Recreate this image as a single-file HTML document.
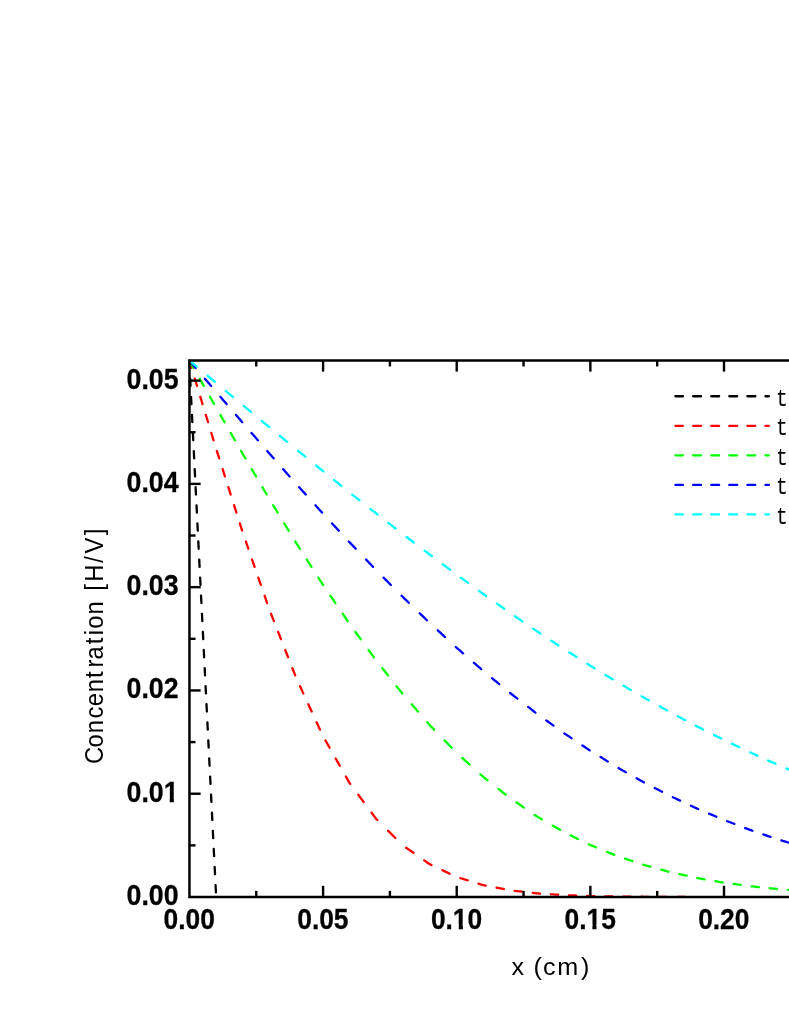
<!DOCTYPE html>
<html><head><meta charset="utf-8"><title>chart</title>
<style>
html,body{margin:0;padding:0;background:#fff;}
body{width:789px;height:1021px;overflow:hidden;position:relative;font-family:"Liberation Sans",sans-serif;}
text{font-family:"Liberation Sans",sans-serif;fill:#000;}
.tl{font-size:29.5px;font-weight:bold;stroke:#000;stroke-width:0.3px;}
.al{font-weight:normal;}
.lg{font-family:"Liberation Mono",monospace;font-size:24px;}
</style></head><body>
<svg width="789" height="1021" viewBox="0 0 789 1021" style="position:absolute;left:0;top:0;will-change:transform">
<defs><clipPath id="pc"><rect x="188.45" y="359.4" width="700" height="538.2"/></clipPath></defs>
<path d="M189.26,360.62 L189.52,365.77 L189.63,367.92 M190.17,378.70 L190.33,381.86 L190.53,386.00 M191.07,396.79 L191.13,397.96 L191.40,403.33 L191.44,404.09 M191.98,414.88 L192.21,419.43 L192.35,422.17 M192.89,432.96 L193.02,435.52 L193.25,440.26 M193.79,451.04 L193.82,451.62 L194.09,456.99 L194.16,458.34 M194.70,469.13 L194.90,473.09 L195.07,476.43 M195.61,487.21 L195.71,489.18 L195.97,494.51 M196.52,505.30 L196.78,510.65 L196.88,512.60 M197.42,523.38 L197.59,526.75 L197.79,530.68 M198.33,541.47 L198.40,542.84 L198.67,548.21 L198.69,548.77 M199.24,559.55 L199.47,564.31 L199.60,566.86 M200.14,577.64 L200.28,580.41 L200.51,584.94 M201.05,595.73 L201.09,596.50 L201.36,601.87 L201.42,603.02 M201.96,613.81 L202.16,617.97 L202.32,621.11 M202.86,631.89 L202.97,634.07 L203.23,639.20 M203.77,649.98 L203.78,650.16 L204.05,655.53 L204.14,657.28 M204.68,668.07 L204.85,671.63 L205.04,675.37 M205.58,686.15 L205.66,687.73 L205.93,693.09 L205.95,693.45 M206.49,704.24 L206.74,709.19 L206.86,711.54 M207.40,722.32 L207.55,725.29 L207.76,729.62 M208.30,740.40 L208.35,741.39 L208.62,746.75 L208.67,747.71 M209.21,758.49 L209.43,762.85 L209.58,765.79 M210.12,776.58 L210.24,778.95 L210.48,783.88 M211.02,794.66 L211.04,795.05 L211.31,800.41 L211.39,801.96 M211.93,812.75 L212.12,816.51 L212.30,820.05 M212.84,830.83 L212.93,832.61 L213.20,837.97 L213.20,838.13 M213.74,848.91 L214.00,854.07 L214.11,856.22 M214.65,867.00 L214.81,870.17 L215.02,874.30 M215.56,885.09 L215.62,886.27 L215.89,891.63 L215.92,892.38" fill="none" stroke="#000" stroke-width="2.3" stroke-linecap="round" stroke-linejoin="round" clip-path="url(#pc)"/>
<path d="M189.32,360.62 L190.59,364.79 L191.54,367.92 M194.82,378.70 L195.93,382.34 L197.04,386.00 M200.32,396.79 L201.27,399.90 L202.54,404.09 M205.82,414.88 L206.61,417.45 L207.94,421.84 L208.05,422.17 M211.33,432.96 L211.95,435.00 L213.28,439.39 L213.55,440.26 M216.87,451.04 L217.29,452.37 L218.63,456.58 L219.19,458.34 M222.61,469.13 L222.63,469.20 L223.97,473.40 L224.93,476.43 M228.35,487.21 L229.31,490.23 L230.64,494.43 L230.67,494.51 M234.09,505.30 L234.65,507.05 L235.98,511.26 L236.41,512.60 M239.83,523.38 L239.99,523.88 L241.32,528.08 L242.15,530.68 M245.83,541.47 L246.67,543.88 L248.00,547.74 L248.36,548.77 M252.08,559.55 L253.34,563.19 L254.61,566.86 M258.33,577.64 L258.68,578.65 L260.02,582.51 L260.86,584.94 M264.58,595.73 L265.36,597.97 L266.69,601.83 L267.11,603.02 M271.04,613.81 L272.04,616.36 L273.37,619.76 L273.90,621.11 M278.13,631.90 L278.71,633.36 L280.05,636.77 L281.00,639.20 M285.23,649.98 L285.39,650.37 L286.72,653.77 L288.06,657.17 L288.10,657.28 M292.33,668.07 L293.40,670.78 L294.73,674.18 L295.20,675.37 M300.01,686.15 L300.08,686.30 L301.41,689.21 L302.75,692.12 L303.36,693.45 M308.31,704.24 L309.42,706.66 L310.76,709.57 L311.66,711.54 M316.61,722.32 L317.43,724.10 L318.77,727.01 L319.97,729.62 M325.42,740.40 L325.45,740.44 L326.78,742.80 L328.12,745.15 L329.45,747.51 L329.56,747.71 M335.68,758.49 L336.13,759.28 L337.46,761.64 L338.80,763.99 L339.82,765.79 M345.93,776.58 L346.81,778.12 L348.14,780.48 L349.48,782.83 L350.25,783.88 M358.22,794.66 L358.83,795.47 L360.16,797.28 L361.50,799.09 L362.83,800.89 L363.62,801.96 M371.59,812.75 L372.18,813.54 L373.51,815.34 L374.85,817.15 L376.19,818.95 L377.28,820.03 M388.06,830.72 L388.20,830.86 L389.54,832.18 L390.87,833.50 L392.21,834.82 L393.54,836.15 L394.88,837.47 L395.36,837.95 M406.15,847.69 L406.90,848.21 L408.23,849.15 L409.57,850.09 L410.90,851.02 L412.24,851.96 L413.45,852.81 M424.23,860.38 L424.25,860.39 L425.59,861.33 L426.92,862.26 L428.26,863.20 L429.60,864.14 L430.93,864.77 L431.53,865.06 M442.32,870.19 L442.95,870.49 L444.28,871.13 L445.62,871.77 L446.95,872.40 L448.29,873.04 L449.62,873.67 M460.40,878.12 L461.64,878.50 L462.98,878.92 L464.31,879.33 L465.65,879.74 L466.98,880.15 L467.70,880.38 M478.49,883.71 L479.00,883.87 L480.33,884.29 L481.67,884.70 L483.00,885.11 L484.34,885.37 L485.68,885.63 L485.79,885.65 M496.57,887.72 L497.69,887.94 L499.03,888.20 L500.36,888.45 L501.70,888.71 L503.03,888.97 L503.87,889.13 M514.66,890.82 L515.05,890.87 L516.39,891.02 L517.72,891.17 L519.06,891.33 L520.39,891.48 L521.73,891.63 L521.96,891.66 M532.74,892.90 L533.74,893.01 L535.08,893.17 L536.41,893.32 L537.75,893.41 L539.09,893.49 L540.04,893.56 M550.83,894.26 L551.10,894.28 L552.44,894.37 L553.77,894.46 L555.11,894.55 L556.44,894.63 L557.78,894.72 L558.13,894.74 M568.91,895.28 L569.80,895.31 L571.13,895.36 L572.47,895.41 L573.80,895.45 L575.14,895.50 L576.21,895.54 M587.00,895.93 L587.15,895.93 L588.49,895.98 L589.83,896.03 L591.16,896.05 L592.50,896.08 L593.83,896.10 L594.30,896.11 M605.08,896.31 L605.85,896.33 L607.18,896.35 L608.52,896.38 L609.85,896.40 L611.19,896.43 L612.38,896.45 M623.17,896.59 L623.21,896.59 L624.54,896.61 L625.88,896.62 L627.21,896.63 L628.55,896.64 L629.88,896.66 L630.47,896.66 M641.25,896.76 L641.90,896.77 L643.24,896.78 L644.57,896.79 L645.91,896.79 L647.24,896.80 L648.55,896.81 M659.34,896.85 L660.59,896.86 L661.93,896.87 L663.26,896.87 L664.60,896.88 L665.93,896.88 L666.64,896.89 M677.42,896.92 L677.95,896.92 L679.29,896.92 L680.62,896.92 L681.96,896.93 L683.29,896.93 L684.63,896.93 L684.72,896.93" fill="none" stroke="#ff0000" stroke-width="2.3" stroke-linecap="round" stroke-linejoin="round" clip-path="url(#pc)"/>
<path d="M189.38,360.62 L190.59,362.75 L191.92,365.09 L193.26,367.44 L193.53,367.92 M199.67,378.70 L199.93,379.17 L201.27,381.52 L202.60,383.87 L203.82,386.00 M209.96,396.79 L210.61,397.95 L211.95,400.29 L213.28,402.64 L214.11,404.09 M220.30,414.88 L221.30,416.61 L222.63,418.93 L223.97,421.25 L224.50,422.17 M230.70,432.96 L231.98,435.17 L233.31,437.49 L234.65,439.81 L234.91,440.26 M241.11,451.04 L241.32,451.41 L242.66,453.73 L244.00,456.00 L245.33,458.27 L245.38,458.34 M251.73,469.13 L252.01,469.60 L253.34,471.86 L254.68,474.13 L256.01,476.40 L256.03,476.43 M262.39,487.21 L262.69,487.73 L264.02,489.99 L265.36,492.26 L266.69,494.51 M273.17,505.30 L273.37,505.62 L274.71,507.81 L276.04,510.00 L277.38,512.18 L277.63,512.60 M284.22,523.38 L285.39,525.31 L286.72,527.49 L288.06,529.68 L288.67,530.68 M295.26,541.47 L296.07,542.80 L297.41,544.89 L298.74,546.97 L299.89,548.77 M306.80,559.55 L308.09,561.57 L309.42,563.66 L310.76,565.74 L311.47,566.86 M318.38,577.64 L318.77,578.25 L320.10,580.34 L321.44,582.42 L322.77,584.51 L323.07,584.94 M330.40,595.73 L330.79,596.29 L332.12,598.26 L333.46,600.22 L334.79,602.19 L335.36,603.02 M342.69,613.81 L342.80,613.97 L344.14,615.94 L345.47,617.90 L346.81,619.87 L347.66,621.11 M355.39,631.89 L356.16,632.95 L357.49,634.78 L358.83,636.61 L360.16,638.44 L360.71,639.20 M368.58,649.98 L369.51,651.26 L370.84,653.09 L372.18,654.92 L373.51,656.75 L373.90,657.28 M382.23,668.07 L382.86,668.86 L384.20,670.55 L385.53,672.24 L386.87,673.94 L388.00,675.37 M396.51,686.15 L397.55,687.46 L398.88,689.15 L400.22,690.84 L401.55,692.53 L402.28,693.45 M411.59,704.24 L412.24,704.98 L413.57,706.52 L414.91,708.06 L416.24,709.59 L417.58,711.13 L417.93,711.54 M427.30,722.32 L428.26,723.42 L429.60,724.96 L430.93,726.34 L432.27,727.72 L433.60,729.09 L434.11,729.62 M444.55,740.40 L445.62,741.50 L446.95,742.88 L448.29,744.26 L449.62,745.64 L450.96,747.02 L451.62,747.71 M462.25,757.93 L462.98,758.58 L464.31,759.79 L465.65,761.00 L466.98,762.20 L468.32,763.41 L469.55,764.53 M480.34,774.29 L481.67,775.50 L483.00,776.71 L484.34,777.76 L485.68,778.82 L487.01,779.88 L487.64,780.38 M498.42,788.91 L499.03,789.39 L500.36,790.45 L501.70,791.50 L503.03,792.56 L504.37,793.62 L505.70,794.67 L505.72,794.69 M516.51,802.49 L517.72,803.32 L519.06,804.24 L520.39,805.15 L521.73,806.06 L523.06,806.98 L523.81,807.49 M534.59,814.86 L535.08,815.19 L536.41,816.11 L537.75,816.88 L539.09,817.66 L540.42,818.44 L541.76,819.22 L541.89,819.30 M552.68,825.59 L553.77,826.23 L555.11,827.01 L556.44,827.79 L557.78,828.57 L559.11,829.35 L559.98,829.85 M570.76,835.45 L571.13,835.63 L572.47,836.28 L573.80,836.94 L575.14,837.60 L576.47,838.25 L577.81,838.91 L578.06,839.04 M588.85,844.34 L589.83,844.82 L591.16,845.37 L592.50,845.91 L593.83,846.46 L595.17,847.01 L596.15,847.41 M606.93,851.82 L607.18,851.93 L608.52,852.47 L609.85,853.02 L611.19,853.57 L612.52,854.11 L613.86,854.66 L614.23,854.81 M625.02,858.61 L625.88,858.90 L627.21,859.35 L628.55,859.80 L629.88,860.25 L631.22,860.70 L632.32,861.07 M643.10,864.70 L643.24,864.74 L644.57,865.11 L645.91,865.47 L647.24,865.84 L648.58,866.20 L649.91,866.57 L650.40,866.70 M661.19,869.65 L661.93,869.86 L663.26,870.22 L664.60,870.59 L665.93,870.95 L667.27,871.32 L668.49,871.65 M679.27,874.10 L679.29,874.10 L680.62,874.39 L681.96,874.68 L683.29,874.98 L684.63,875.27 L685.96,875.56 L686.57,875.70 M697.36,878.03 L697.98,878.14 L699.32,878.37 L700.65,878.60 L701.99,878.84 L703.32,879.07 L704.66,879.30 L704.66,879.30 M715.44,881.18 L716.67,881.39 L718.01,881.62 L719.34,881.85 L720.68,882.09 L722.01,882.32 L722.74,882.45 M733.53,883.94 L734.03,884.01 L735.37,884.19 L736.70,884.37 L738.04,884.55 L739.37,884.73 L740.71,884.91 L740.83,884.93 M751.61,886.35 L752.73,886.47 L754.06,886.61 L755.40,886.75 L756.73,886.89 L758.07,887.03 L758.91,887.12 M769.70,888.25 L770.08,888.29 L771.42,888.44 L772.75,888.58 L774.09,888.72 L775.42,888.86 L776.76,889.00 L777.00,889.02 M787.78,889.88 L788.78,889.96 L790.11,890.07 L791.45,890.18 L792.78,890.28 L794.12,890.39 L795.08,890.47 M805.87,891.28 L806.14,891.30 L807.47,891.38 L808.81,891.46 L810.14,891.54 L811.48,891.62 L812.81,891.70 L813.17,891.73 M823.95,892.38 L824.83,892.43 L826.16,892.51 L827.50,892.59 L828.83,892.67" fill="none" stroke="#00ff00" stroke-width="2.3" stroke-linecap="round" stroke-linejoin="round" clip-path="url(#pc)"/>
<path d="M189.44,360.62 L190.59,361.96 L191.92,363.52 L193.26,365.09 L194.59,366.65 L195.68,367.92 M204.89,378.70 L205.27,379.15 L206.61,380.71 L207.94,382.27 L209.28,383.84 L210.61,385.40 L211.13,386.00 M220.37,396.79 L221.30,397.86 L222.63,399.42 L223.97,400.97 L225.30,402.53 L226.64,404.08 L226.65,404.09 M235.91,414.88 L235.98,414.96 L237.32,416.51 L238.65,418.07 L239.99,419.62 L241.32,421.17 L242.18,422.17 M251.55,432.96 L252.01,433.49 L253.34,435.03 L254.68,436.57 L256.01,438.10 L257.35,439.64 L257.88,440.26 M267.25,451.04 L268.03,451.94 L269.37,453.48 L270.70,454.99 L272.04,456.51 L273.37,458.02 L273.66,458.34 M283.17,469.13 L284.05,470.12 L285.39,471.64 L286.72,473.15 L288.06,474.66 L289.39,476.18 L289.62,476.43 M299.20,487.21 L300.08,488.19 L301.41,489.67 L302.75,491.15 L304.08,492.63 L305.42,494.11 L305.78,494.51 M315.50,505.30 L316.10,505.96 L317.43,507.44 L318.77,508.92 L320.10,510.41 L321.44,511.89 L322.08,512.60 M332.05,523.38 L332.12,523.46 L333.46,524.91 L334.79,526.35 L336.13,527.79 L337.46,529.23 L338.80,530.67 L338.81,530.68 M348.79,541.47 L349.48,542.21 L350.82,543.61 L352.15,545.01 L353.49,546.40 L354.82,547.80 L355.75,548.77 M366.06,559.55 L366.84,560.37 L368.17,561.77 L369.51,563.16 L370.84,564.56 L372.18,565.96 L373.04,566.86 M383.62,577.64 L384.20,578.22 L385.53,579.57 L386.87,580.91 L388.20,582.26 L389.54,583.61 L390.86,584.94 M401.56,595.73 L402.89,597.06 L404.23,598.35 L405.56,599.64 L406.90,600.93 L408.23,602.22 L408.85,602.82 M419.64,613.24 L420.25,613.82 L421.58,615.11 L422.92,616.40 L424.25,617.69 L425.59,618.98 L426.92,620.27 L426.94,620.28 M437.72,630.33 L438.94,631.45 L440.28,632.68 L441.61,633.91 L442.95,635.14 L444.28,636.37 L445.02,637.05 M455.81,646.98 L456.30,647.43 L457.64,648.59 L458.97,649.76 L460.31,650.93 L461.64,652.09 L462.98,653.26 L463.11,653.37 M473.89,662.78 L474.99,663.74 L476.33,664.91 L477.66,666.07 L479.00,667.24 L480.33,668.40 L481.19,669.15 M491.98,678.12 L492.35,678.42 L493.69,679.52 L495.02,680.62 L496.36,681.72 L497.69,682.82 L499.03,683.92 L499.28,684.12 M510.06,692.98 L511.05,693.74 L512.38,694.77 L513.72,695.80 L515.05,696.83 L516.39,697.86 L517.36,698.62 M528.15,706.94 L528.40,707.14 L529.74,708.17 L531.07,709.20 L532.41,710.23 L533.74,711.26 L535.08,712.29 L535.45,712.57 M546.23,720.39 L547.10,721.01 L548.43,721.98 L549.77,722.94 L551.10,723.90 L552.44,724.86 L553.53,725.65 M564.32,733.35 L564.46,733.45 L565.79,734.34 L567.13,735.23 L568.46,736.12 L569.80,737.01 L571.13,737.91 L571.62,738.23 M582.40,745.44 L583.15,745.94 L584.48,746.83 L585.82,747.72 L587.15,748.62 L588.49,749.51 L589.70,750.32 M600.49,756.98 L600.51,756.99 L601.84,757.82 L603.18,758.64 L604.51,759.46 L605.85,760.29 L607.18,761.11 L607.79,761.48 M618.57,768.03 L619.20,768.39 L620.54,769.15 L621.87,769.90 L623.21,770.66 L624.54,771.42 L625.87,772.17 M636.66,778.28 L637.89,778.98 L639.23,779.74 L640.56,780.49 L641.90,781.25 L643.24,782.00 L643.96,782.38 M654.74,787.96 L655.25,788.22 L656.59,788.91 L657.92,789.60 L659.26,790.30 L660.59,790.99 L661.93,791.68 L662.04,791.74 M672.83,797.18 L673.95,797.70 L675.28,798.33 L676.62,798.96 L677.95,799.59 L679.29,800.21 L680.13,800.61 M690.91,805.68 L691.30,805.86 L692.64,806.49 L693.97,807.12 L695.31,807.75 L696.64,808.37 L697.98,808.94 L698.21,809.04 M709.00,813.62 L710.00,814.04 L711.33,814.61 L712.67,815.18 L714.00,815.75 L715.34,816.31 L716.30,816.72 M727.08,821.14 L727.36,821.25 L728.69,821.76 L730.03,822.26 L731.36,822.77 L732.70,823.28 L734.03,823.79 L734.38,823.93 M745.17,828.05 L746.05,828.38 L747.38,828.89 L748.72,829.40 L750.05,829.91 L751.39,830.37 L752.47,830.73 M763.25,834.42 L763.41,834.47 L764.74,834.92 L766.08,835.38 L767.41,835.84 L768.75,836.29 L770.08,836.75 L770.55,836.91 M781.34,840.41 L782.10,840.65 L783.44,841.05 L784.77,841.46 L786.11,841.86 L787.44,842.27 L788.64,842.63 M799.42,845.90 L799.46,845.91 L800.79,846.32 L802.13,846.73 L803.47,847.13 L804.80,847.49 L806.14,847.85 L806.72,848.01 M817.51,850.90 L818.15,851.07 L819.49,851.43 L820.82,851.79 L822.16,852.15 L823.49,852.51 L824.81,852.86" fill="none" stroke="#0000ff" stroke-width="2.3" stroke-linecap="round" stroke-linejoin="round" clip-path="url(#pc)"/>
<path d="M189.47,360.58 L190.59,361.52 L191.92,362.63 L193.26,363.75 L194.59,364.87 L195.93,365.99 L196.77,366.69 M207.56,375.72 L207.94,376.04 L209.28,377.16 L210.61,378.28 L211.95,379.40 L213.28,380.51 L214.62,381.63 L214.85,381.83 M225.64,390.83 L226.64,391.66 L227.97,392.78 L229.31,393.89 L230.64,395.01 L231.98,396.12 L232.94,396.92 M243.72,405.92 L244.00,406.15 L245.33,407.25 L246.67,408.36 L248.00,409.47 L249.34,410.58 L250.67,411.69 L251.03,411.98 M261.81,420.93 L262.69,421.66 L264.02,422.77 L265.36,423.88 L266.69,424.99 L268.03,426.10 L269.11,426.99 M279.89,435.87 L280.05,436.00 L281.38,437.10 L282.72,438.20 L284.05,439.30 L285.39,440.40 L286.72,441.50 L287.19,441.88 M297.98,450.75 L298.74,451.37 L300.08,452.45 L301.41,453.54 L302.75,454.63 L304.08,455.72 L305.28,456.69 M316.06,465.47 L316.10,465.50 L317.43,466.59 L318.77,467.68 L320.10,468.76 L321.44,469.85 L322.77,470.94 L323.37,471.41 M334.15,480.08 L334.79,480.59 L336.13,481.67 L337.46,482.74 L338.80,483.81 L340.13,484.88 L341.45,485.94 M352.24,494.57 L353.49,495.56 L354.82,496.61 L356.16,497.67 L357.49,498.72 L358.83,499.78 L359.54,500.34 M370.32,508.86 L370.84,509.28 L372.18,510.33 L373.51,511.39 L374.85,512.44 L376.19,513.50 L377.52,514.53 L377.62,514.61 M388.40,522.97 L389.54,523.85 L390.87,524.89 L392.21,525.92 L393.54,526.96 L394.88,527.99 L395.71,528.63 M406.49,536.93 L406.90,537.24 L408.23,538.26 L409.57,539.27 L410.90,540.28 L412.24,541.29 L413.57,542.31 L413.79,542.47 M424.58,550.65 L425.59,551.42 L426.92,552.44 L428.26,553.45 L429.60,554.46 L430.93,555.46 L431.88,556.16 M442.66,564.21 L442.95,564.42 L444.28,565.42 L445.62,566.41 L446.95,567.41 L448.29,568.40 L449.62,569.40 L449.96,569.65 M460.75,577.61 L461.64,578.26 L462.98,579.23 L464.31,580.20 L465.65,581.17 L466.98,582.14 L468.05,582.91 M478.83,590.74 L479.00,590.87 L480.33,591.84 L481.67,592.81 L483.00,593.78 L484.34,594.72 L485.68,595.66 L486.13,595.98 M496.92,603.59 L497.69,604.14 L499.03,605.09 L500.36,606.03 L501.70,606.97 L503.03,607.91 L504.22,608.75 M515.00,616.24 L515.05,616.28 L516.39,617.19 L517.72,618.10 L519.06,619.02 L520.39,619.93 L521.73,620.84 L522.30,621.24 M533.09,628.61 L533.74,629.06 L535.08,629.97 L536.41,630.89 L537.75,631.77 L539.09,632.65 L540.38,633.50 M551.17,640.62 L552.44,641.45 L553.77,642.33 L555.11,643.21 L556.44,644.09 L557.78,644.97 L558.47,645.43 M569.26,652.38 L569.80,652.73 L571.13,653.57 L572.47,654.42 L573.80,655.26 L575.14,656.11 L576.47,656.96 L576.56,657.01 M587.34,663.84 L588.49,664.57 L589.83,665.42 L591.16,666.23 L592.50,667.04 L593.83,667.86 L594.64,668.35 M605.43,674.91 L605.85,675.17 L607.18,675.98 L608.52,676.79 L609.85,677.61 L611.19,678.42 L612.52,679.23 L612.73,679.35 M623.51,685.73 L624.54,686.34 L625.88,687.11 L627.21,687.89 L628.55,688.67 L629.88,689.45 L630.81,689.99 M641.60,696.27 L641.90,696.45 L643.24,697.23 L644.57,697.97 L645.91,698.71 L647.24,699.46 L648.58,700.20 L648.89,700.38 M659.68,706.38 L660.59,706.88 L661.93,707.63 L663.26,708.37 L664.60,709.11 L665.93,709.85 L666.98,710.44 M677.77,716.23 L677.95,716.33 L679.29,717.03 L680.62,717.74 L681.96,718.45 L683.29,719.15 L684.63,719.86 L685.07,720.09 M695.85,725.81 L696.64,726.23 L697.98,726.90 L699.32,727.57 L700.65,728.24 L701.99,728.91 L703.15,729.50 M713.94,734.92 L714.00,734.95 L715.34,735.63 L716.67,736.30 L718.01,736.97 L719.34,737.64 L720.68,738.31 L721.24,738.59 M732.02,743.78 L732.70,744.10 L734.03,744.74 L735.37,745.37 L736.70,746.01 L738.04,746.64 L739.32,747.25 M750.11,752.39 L751.39,752.96 L752.73,753.56 L754.06,754.16 L755.40,754.76 L756.73,755.36 L757.40,755.66 M768.19,760.51 L768.75,760.76 L770.08,761.36 L771.42,761.96 L772.75,762.56 L774.09,763.16 L775.42,763.76 L775.49,763.79 M786.28,768.38 L787.44,768.87 L788.78,769.43 L790.11,770.00 L791.45,770.56 L792.78,771.12 L793.58,771.46 M804.36,775.99 L804.80,776.16 L806.14,776.69 L807.47,777.22 L808.81,777.74 L810.14,778.27 L811.48,778.80 L811.66,778.87 M822.45,783.14 L823.49,783.55 L824.83,784.08 L826.16,784.61 L827.50,785.14 L828.83,785.67" fill="none" stroke="#00ffff" stroke-width="2.3" stroke-linecap="round" stroke-linejoin="round" clip-path="url(#pc)"/>
<path d="M794,360.4 L189.45,360.4 L189.45,897.0 L794,897.0" fill="none" stroke="#000" stroke-width="2.5" stroke-linejoin="miter"/>
<text x="189.25" y="929.0" text-anchor="middle" class="tl" textLength="51.3" lengthAdjust="spacingAndGlyphs">0.00</text>
<line x1="256.27" x2="256.27" y1="897.0" y2="890.9" stroke="#000" stroke-width="2.4"/>
<line x1="256.27" x2="256.27" y1="360.4" y2="366.5" stroke="#000" stroke-width="2.4"/>
<line x1="323.09" x2="323.09" y1="897.0" y2="885.8" stroke="#000" stroke-width="2.4"/>
<line x1="323.09" x2="323.09" y1="360.4" y2="371.59999999999997" stroke="#000" stroke-width="2.4"/>
<text x="322.89" y="929.0" text-anchor="middle" class="tl" textLength="51.3" lengthAdjust="spacingAndGlyphs">0.05</text>
<line x1="389.91" x2="389.91" y1="897.0" y2="890.9" stroke="#000" stroke-width="2.4"/>
<line x1="389.91" x2="389.91" y1="360.4" y2="366.5" stroke="#000" stroke-width="2.4"/>
<line x1="456.73" x2="456.73" y1="897.0" y2="885.8" stroke="#000" stroke-width="2.4"/>
<line x1="456.73" x2="456.73" y1="360.4" y2="371.59999999999997" stroke="#000" stroke-width="2.4"/>
<text x="456.53" y="929.0" text-anchor="middle" class="tl" textLength="51.3" lengthAdjust="spacingAndGlyphs">0.10</text>
<rect x="453.72" y="924.80" width="5.04" height="5.8" fill="#fff"/>
<rect x="462.88" y="924.80" width="4.71" height="5.8" fill="#fff"/>
<line x1="523.54" x2="523.54" y1="897.0" y2="890.9" stroke="#000" stroke-width="2.4"/>
<line x1="523.54" x2="523.54" y1="360.4" y2="366.5" stroke="#000" stroke-width="2.4"/>
<line x1="590.36" x2="590.36" y1="897.0" y2="885.8" stroke="#000" stroke-width="2.4"/>
<line x1="590.36" x2="590.36" y1="360.4" y2="371.59999999999997" stroke="#000" stroke-width="2.4"/>
<text x="590.16" y="929.0" text-anchor="middle" class="tl" textLength="51.3" lengthAdjust="spacingAndGlyphs">0.15</text>
<rect x="587.35" y="924.80" width="5.04" height="5.8" fill="#fff"/>
<rect x="596.51" y="924.80" width="4.71" height="5.8" fill="#fff"/>
<line x1="657.18" x2="657.18" y1="897.0" y2="890.9" stroke="#000" stroke-width="2.4"/>
<line x1="657.18" x2="657.18" y1="360.4" y2="366.5" stroke="#000" stroke-width="2.4"/>
<line x1="724.00" x2="724.00" y1="897.0" y2="885.8" stroke="#000" stroke-width="2.4"/>
<line x1="724.00" x2="724.00" y1="360.4" y2="371.59999999999997" stroke="#000" stroke-width="2.4"/>
<text x="723.80" y="929.0" text-anchor="middle" class="tl" textLength="51.3" lengthAdjust="spacingAndGlyphs">0.20</text>
<line x1="790.82" x2="790.82" y1="897.0" y2="890.9" stroke="#000" stroke-width="2.4"/>
<line x1="790.82" x2="790.82" y1="360.4" y2="366.5" stroke="#000" stroke-width="2.4"/>
<text x="178.6" y="905.10" text-anchor="end" class="tl" textLength="52.0" lengthAdjust="spacingAndGlyphs">0.00</text>
<line x1="189.45" x2="195.54999999999998" y1="845.36" y2="845.36" stroke="#000" stroke-width="2.4"/>
<line x1="189.45" x2="200.64999999999998" y1="793.72" y2="793.72" stroke="#000" stroke-width="2.4"/>
<text x="178.6" y="801.82" text-anchor="end" class="tl" textLength="52.0" lengthAdjust="spacingAndGlyphs">0.01</text>
<rect x="164.62" y="797.80" width="5.10" height="5.8" fill="#fff"/>
<rect x="173.89" y="797.80" width="4.76" height="5.8" fill="#fff"/>
<line x1="189.45" x2="195.54999999999998" y1="742.08" y2="742.08" stroke="#000" stroke-width="2.4"/>
<line x1="189.45" x2="200.64999999999998" y1="690.44" y2="690.44" stroke="#000" stroke-width="2.4"/>
<text x="178.6" y="697.94" text-anchor="end" class="tl" textLength="52.0" lengthAdjust="spacingAndGlyphs">0.02</text>
<line x1="189.45" x2="195.54999999999998" y1="638.80" y2="638.80" stroke="#000" stroke-width="2.4"/>
<line x1="189.45" x2="200.64999999999998" y1="587.16" y2="587.16" stroke="#000" stroke-width="2.4"/>
<text x="178.6" y="595.26" text-anchor="end" class="tl" textLength="52.0" lengthAdjust="spacingAndGlyphs">0.03</text>
<line x1="189.45" x2="195.54999999999998" y1="535.52" y2="535.52" stroke="#000" stroke-width="2.4"/>
<line x1="189.45" x2="200.64999999999998" y1="483.88" y2="483.88" stroke="#000" stroke-width="2.4"/>
<text x="178.6" y="491.98" text-anchor="end" class="tl" textLength="52.0" lengthAdjust="spacingAndGlyphs">0.04</text>
<line x1="189.45" x2="195.54999999999998" y1="432.24" y2="432.24" stroke="#000" stroke-width="2.4"/>
<line x1="189.45" x2="200.64999999999998" y1="380.60" y2="380.60" stroke="#000" stroke-width="2.4"/>
<text x="178.6" y="388.70" text-anchor="end" class="tl" textLength="52.0" lengthAdjust="spacingAndGlyphs">0.05</text>
<text transform="translate(102.6,800.0) rotate(-90) scale(0.95,1)" class="al" style="font-size:25px" x="37.81 55.39 70.35 85.71 98.70 113.50 128.43 139.48 147.83 164.01 173.54 180.26 195.35" y="0">Concentration</text>
<text transform="translate(102.6,800.0) rotate(-90) scale(0.95,1)" class="al" style="font-size:25px" x="220.31 229.70 249.68 259.40 278.64" y="0">[H/V]</text>
<text transform="translate(500.0,974.5) scale(1.05,1)" class="al" style="font-size:24px" x="10.89 22.89 31.84 41.06 54.57 77.25" y="0">x (cm)</text>
<path d="M675.40,396.25 L675.90,396.25 L676.40,396.25 L676.90,396.25 L677.40,396.25 L677.90,396.25 L678.40,396.25 L678.90,396.25 L679.40,396.25 L679.90,396.25 L680.40,396.25 L680.90,396.25 L681.40,396.25 L681.90,396.25 L682.40,396.25 L682.90,396.25 L682.95,396.25 M693.13,396.25 L693.40,396.25 L693.90,396.25 L694.40,396.25 L694.90,396.25 L695.40,396.25 L695.90,396.25 L696.40,396.25 L696.90,396.25 L697.40,396.25 L697.90,396.25 L698.40,396.25 L698.90,396.25 L699.40,396.25 L699.90,396.25 L700.40,396.25 L700.90,396.25 L701.03,396.25 M711.22,396.25 L711.40,396.25 L711.90,396.25 L712.40,396.25 L712.90,396.25 L713.40,396.25 L713.90,396.25 L714.40,396.25 L714.90,396.25 L715.40,396.25 L715.90,396.25 L716.40,396.25 L716.90,396.25 L717.40,396.25 L717.90,396.25 L718.40,396.25 L718.90,396.25 L719.12,396.25 M729.30,396.25 L729.40,396.25 L729.90,396.25 L730.40,396.25 L730.90,396.25 L731.40,396.25 L731.90,396.25 L732.40,396.25 L732.90,396.25 L733.40,396.25 L733.90,396.25 L734.40,396.25 L734.90,396.25 L735.40,396.25 L735.90,396.25 L736.40,396.25 L736.90,396.25 L737.20,396.25 M747.39,396.25 L747.40,396.25 L747.90,396.25 L748.40,396.25 L748.90,396.25 L749.40,396.25 L749.90,396.25 L750.40,396.25 L750.90,396.25 L751.40,396.25 L751.90,396.25 L752.40,396.25 L752.90,396.25 L753.40,396.25 L753.90,396.25 L754.40,396.25 L754.90,396.25 L755.29,396.25 M765.48,396.25 L765.90,396.25 L766.40,396.25 L766.90,396.25 L767.40,396.25 L767.90,396.25 L768.40,396.25 L768.90,396.25" fill="none" stroke="#000" stroke-width="2.3" stroke-linecap="round" stroke-linejoin="round"/>
<text transform="translate(776.1,405.70) scale(0.824,1)" class="lg">t</text>
<path d="M675.40,425.80 L675.90,425.80 L676.40,425.80 L676.90,425.80 L677.40,425.80 L677.90,425.80 L678.40,425.80 L678.90,425.80 L679.40,425.80 L679.90,425.80 L680.40,425.80 L680.90,425.80 L681.40,425.80 L681.90,425.80 L682.40,425.80 L682.90,425.80 L682.95,425.80 M693.13,425.80 L693.40,425.80 L693.90,425.80 L694.40,425.80 L694.90,425.80 L695.40,425.80 L695.90,425.80 L696.40,425.80 L696.90,425.80 L697.40,425.80 L697.90,425.80 L698.40,425.80 L698.90,425.80 L699.40,425.80 L699.90,425.80 L700.40,425.80 L700.90,425.80 L701.03,425.80 M711.22,425.80 L711.40,425.80 L711.90,425.80 L712.40,425.80 L712.90,425.80 L713.40,425.80 L713.90,425.80 L714.40,425.80 L714.90,425.80 L715.40,425.80 L715.90,425.80 L716.40,425.80 L716.90,425.80 L717.40,425.80 L717.90,425.80 L718.40,425.80 L718.90,425.80 L719.12,425.80 M729.30,425.80 L729.40,425.80 L729.90,425.80 L730.40,425.80 L730.90,425.80 L731.40,425.80 L731.90,425.80 L732.40,425.80 L732.90,425.80 L733.40,425.80 L733.90,425.80 L734.40,425.80 L734.90,425.80 L735.40,425.80 L735.90,425.80 L736.40,425.80 L736.90,425.80 L737.20,425.80 M747.39,425.80 L747.40,425.80 L747.90,425.80 L748.40,425.80 L748.90,425.80 L749.40,425.80 L749.90,425.80 L750.40,425.80 L750.90,425.80 L751.40,425.80 L751.90,425.80 L752.40,425.80 L752.90,425.80 L753.40,425.80 L753.90,425.80 L754.40,425.80 L754.90,425.80 L755.29,425.80 M765.48,425.80 L765.90,425.80 L766.40,425.80 L766.90,425.80 L767.40,425.80 L767.90,425.80 L768.40,425.80 L768.90,425.80" fill="none" stroke="#ff0000" stroke-width="2.3" stroke-linecap="round" stroke-linejoin="round"/>
<text transform="translate(776.1,435.25) scale(0.824,1)" class="lg">t</text>
<path d="M675.40,455.35 L675.90,455.35 L676.40,455.35 L676.90,455.35 L677.40,455.35 L677.90,455.35 L678.40,455.35 L678.90,455.35 L679.40,455.35 L679.90,455.35 L680.40,455.35 L680.90,455.35 L681.40,455.35 L681.90,455.35 L682.40,455.35 L682.90,455.35 L682.95,455.35 M693.13,455.35 L693.40,455.35 L693.90,455.35 L694.40,455.35 L694.90,455.35 L695.40,455.35 L695.90,455.35 L696.40,455.35 L696.90,455.35 L697.40,455.35 L697.90,455.35 L698.40,455.35 L698.90,455.35 L699.40,455.35 L699.90,455.35 L700.40,455.35 L700.90,455.35 L701.03,455.35 M711.22,455.35 L711.40,455.35 L711.90,455.35 L712.40,455.35 L712.90,455.35 L713.40,455.35 L713.90,455.35 L714.40,455.35 L714.90,455.35 L715.40,455.35 L715.90,455.35 L716.40,455.35 L716.90,455.35 L717.40,455.35 L717.90,455.35 L718.40,455.35 L718.90,455.35 L719.12,455.35 M729.30,455.35 L729.40,455.35 L729.90,455.35 L730.40,455.35 L730.90,455.35 L731.40,455.35 L731.90,455.35 L732.40,455.35 L732.90,455.35 L733.40,455.35 L733.90,455.35 L734.40,455.35 L734.90,455.35 L735.40,455.35 L735.90,455.35 L736.40,455.35 L736.90,455.35 L737.20,455.35 M747.39,455.35 L747.40,455.35 L747.90,455.35 L748.40,455.35 L748.90,455.35 L749.40,455.35 L749.90,455.35 L750.40,455.35 L750.90,455.35 L751.40,455.35 L751.90,455.35 L752.40,455.35 L752.90,455.35 L753.40,455.35 L753.90,455.35 L754.40,455.35 L754.90,455.35 L755.29,455.35 M765.48,455.35 L765.90,455.35 L766.40,455.35 L766.90,455.35 L767.40,455.35 L767.90,455.35 L768.40,455.35 L768.90,455.35" fill="none" stroke="#00ff00" stroke-width="2.3" stroke-linecap="round" stroke-linejoin="round"/>
<text transform="translate(776.1,464.80) scale(0.824,1)" class="lg">t</text>
<path d="M675.40,484.90 L675.90,484.90 L676.40,484.90 L676.90,484.90 L677.40,484.90 L677.90,484.90 L678.40,484.90 L678.90,484.90 L679.40,484.90 L679.90,484.90 L680.40,484.90 L680.90,484.90 L681.40,484.90 L681.90,484.90 L682.40,484.90 L682.90,484.90 L682.95,484.90 M693.13,484.90 L693.40,484.90 L693.90,484.90 L694.40,484.90 L694.90,484.90 L695.40,484.90 L695.90,484.90 L696.40,484.90 L696.90,484.90 L697.40,484.90 L697.90,484.90 L698.40,484.90 L698.90,484.90 L699.40,484.90 L699.90,484.90 L700.40,484.90 L700.90,484.90 L701.03,484.90 M711.22,484.90 L711.40,484.90 L711.90,484.90 L712.40,484.90 L712.90,484.90 L713.40,484.90 L713.90,484.90 L714.40,484.90 L714.90,484.90 L715.40,484.90 L715.90,484.90 L716.40,484.90 L716.90,484.90 L717.40,484.90 L717.90,484.90 L718.40,484.90 L718.90,484.90 L719.12,484.90 M729.30,484.90 L729.40,484.90 L729.90,484.90 L730.40,484.90 L730.90,484.90 L731.40,484.90 L731.90,484.90 L732.40,484.90 L732.90,484.90 L733.40,484.90 L733.90,484.90 L734.40,484.90 L734.90,484.90 L735.40,484.90 L735.90,484.90 L736.40,484.90 L736.90,484.90 L737.20,484.90 M747.39,484.90 L747.40,484.90 L747.90,484.90 L748.40,484.90 L748.90,484.90 L749.40,484.90 L749.90,484.90 L750.40,484.90 L750.90,484.90 L751.40,484.90 L751.90,484.90 L752.40,484.90 L752.90,484.90 L753.40,484.90 L753.90,484.90 L754.40,484.90 L754.90,484.90 L755.29,484.90 M765.48,484.90 L765.90,484.90 L766.40,484.90 L766.90,484.90 L767.40,484.90 L767.90,484.90 L768.40,484.90 L768.90,484.90" fill="none" stroke="#0000ff" stroke-width="2.3" stroke-linecap="round" stroke-linejoin="round"/>
<text transform="translate(776.1,494.35) scale(0.824,1)" class="lg">t</text>
<path d="M675.40,514.45 L675.90,514.45 L676.40,514.45 L676.90,514.45 L677.40,514.45 L677.90,514.45 L678.40,514.45 L678.90,514.45 L679.40,514.45 L679.90,514.45 L680.40,514.45 L680.90,514.45 L681.40,514.45 L681.90,514.45 L682.40,514.45 L682.90,514.45 L682.95,514.45 M693.13,514.45 L693.40,514.45 L693.90,514.45 L694.40,514.45 L694.90,514.45 L695.40,514.45 L695.90,514.45 L696.40,514.45 L696.90,514.45 L697.40,514.45 L697.90,514.45 L698.40,514.45 L698.90,514.45 L699.40,514.45 L699.90,514.45 L700.40,514.45 L700.90,514.45 L701.03,514.45 M711.22,514.45 L711.40,514.45 L711.90,514.45 L712.40,514.45 L712.90,514.45 L713.40,514.45 L713.90,514.45 L714.40,514.45 L714.90,514.45 L715.40,514.45 L715.90,514.45 L716.40,514.45 L716.90,514.45 L717.40,514.45 L717.90,514.45 L718.40,514.45 L718.90,514.45 L719.12,514.45 M729.30,514.45 L729.40,514.45 L729.90,514.45 L730.40,514.45 L730.90,514.45 L731.40,514.45 L731.90,514.45 L732.40,514.45 L732.90,514.45 L733.40,514.45 L733.90,514.45 L734.40,514.45 L734.90,514.45 L735.40,514.45 L735.90,514.45 L736.40,514.45 L736.90,514.45 L737.20,514.45 M747.39,514.45 L747.40,514.45 L747.90,514.45 L748.40,514.45 L748.90,514.45 L749.40,514.45 L749.90,514.45 L750.40,514.45 L750.90,514.45 L751.40,514.45 L751.90,514.45 L752.40,514.45 L752.90,514.45 L753.40,514.45 L753.90,514.45 L754.40,514.45 L754.90,514.45 L755.29,514.45 M765.48,514.45 L765.90,514.45 L766.40,514.45 L766.90,514.45 L767.40,514.45 L767.90,514.45 L768.40,514.45 L768.90,514.45" fill="none" stroke="#00ffff" stroke-width="2.3" stroke-linecap="round" stroke-linejoin="round"/>
<text transform="translate(776.1,523.90) scale(0.824,1)" class="lg">t</text>
</svg>
</body></html>
